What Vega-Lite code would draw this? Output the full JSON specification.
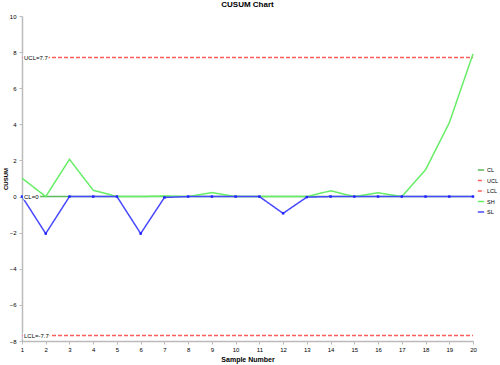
{
  "$schema": "https://vega.github.io/schema/vega-lite/v6.json",
  "width": 451,
  "height": 325,
  "autosize": {"type": "none"},
  "padding": {"left": 22, "top": 16, "right": 27, "bottom": 24},
  "background": "white",
  "config": {"view": {"stroke": null}, "font": "Liberation Sans"},
  "title": {"text": "CUSUM Chart", "fontSize": 8, "fontWeight": "bold", "offset": 4, "color": "#000"},
  "datasets": {
    "cusum": [
      {"sample": 1, "SH": 1.02, "SL": 0, "CL": 0, "UCL": 7.7, "LCL": -7.7},
      {"sample": 2, "SH": 0, "SL": -2.05, "CL": 0, "UCL": 7.7, "LCL": -7.7},
      {"sample": 3, "SH": 2.06, "SL": 0, "CL": 0, "UCL": 7.7, "LCL": -7.7},
      {"sample": 4, "SH": 0.35, "SL": 0, "CL": 0, "UCL": 7.7, "LCL": -7.7},
      {"sample": 5, "SH": 0, "SL": 0, "CL": 0, "UCL": 7.7, "LCL": -7.7},
      {"sample": 6, "SH": 0, "SL": -2.05, "CL": 0, "UCL": 7.7, "LCL": -7.7},
      {"sample": 7, "SH": 0.03, "SL": -0.05, "CL": 0, "UCL": 7.7, "LCL": -7.7},
      {"sample": 8, "SH": 0, "SL": 0, "CL": 0, "UCL": 7.7, "LCL": -7.7},
      {"sample": 9, "SH": 0.22, "SL": 0, "CL": 0, "UCL": 7.7, "LCL": -7.7},
      {"sample": 10, "SH": 0, "SL": 0, "CL": 0, "UCL": 7.7, "LCL": -7.7},
      {"sample": 11, "SH": 0, "SL": 0, "CL": 0, "UCL": 7.7, "LCL": -7.7},
      {"sample": 12, "SH": 0, "SL": -0.93, "CL": 0, "UCL": 7.7, "LCL": -7.7},
      {"sample": 13, "SH": 0, "SL": -0.03, "CL": 0, "UCL": 7.7, "LCL": -7.7},
      {"sample": 14, "SH": 0.32, "SL": 0, "CL": 0, "UCL": 7.7, "LCL": -7.7},
      {"sample": 15, "SH": 0, "SL": 0, "CL": 0, "UCL": 7.7, "LCL": -7.7},
      {"sample": 16, "SH": 0.21, "SL": 0, "CL": 0, "UCL": 7.7, "LCL": -7.7},
      {"sample": 17, "SH": 0, "SL": 0, "CL": 0, "UCL": 7.7, "LCL": -7.7},
      {"sample": 18, "SH": 1.48, "SL": 0, "CL": 0, "UCL": 7.7, "LCL": -7.7},
      {"sample": 19, "SH": 4.08, "SL": 0, "CL": 0, "UCL": 7.7, "LCL": -7.7},
      {"sample": 20, "SH": 7.9, "SL": 0, "CL": 0, "UCL": 7.7, "LCL": -7.7}
    ],
    "labels": [
      {"sample": 1, "value": 7.7, "label": "UCL=7.7"},
      {"sample": 1, "value": 0, "label": "CL=0"},
      {"sample": 1, "value": -7.7, "label": "LCL=-7.7"}
    ]
  },
  "encoding": {
    "x": {
      "field": "sample", "type": "quantitative",
      "scale": {"domain": [1, 20], "nice": false, "zero": false},
      "axis": {
        "title": "Sample Number", "values": [1,2,3,4,5,6,7,8,9,10,11,12,13,14,15,16,17,18,19,20],
        "tickCount": 20,
        "labelFontSize": 6, "titleFontSize": 7, "titleFontWeight": "bold", "grid": false,
        "labelOverlap": false, "labelFlush": false, "labelBound": false,
        "domainColor": "#bbbbbb", "domainWidth": 1.5, "tickColor": "#bbbbbb", "tickSize": 3,
        "labelPadding": 2, "titlePadding": 3, "labelColor": "#000", "titleColor": "#000"
      }
    },
    "y": {
      "field": "value", "type": "quantitative",
      "scale": {"domain": [-8, 10], "nice": false},
      "axis": {
        "title": "CUSUM", "values": [-8,-6,-4,-2,0,2,4,6,8,10],
        "tickCount": 10,
        "labelFontSize": 6, "titleFontSize": 6, "titleFontWeight": "bold", "grid": false,
        "labelOverlap": false, "labelFlush": false, "labelBound": false,
        "domainColor": "#bbbbbb", "domainWidth": 1.5, "tickColor": "#bbbbbb", "tickSize": 3,
        "labelPadding": 3, "titlePadding": 1, "labelColor": "#000", "titleColor": "#000"
      }
    }
  },
  "layer": [
    {
      "data": {"name": "cusum"},
      "transform": [{"fold": ["CL", "UCL", "LCL", "SH", "SL"], "as": ["series", "value"]}],
      "mark": {"type": "line", "strokeWidth": 1.5},
      "encoding": {
        "color": {
          "field": "series", "type": "nominal",
          "scale": {"domain": ["CL", "UCL", "LCL", "SH", "SL"], "range": ["#5cb85c", "#ff5c5c", "#ff5c5c", "#66ee66", "#4848ff"]},
          "legend": {
            "title": null, "orient": "none", "legendX": 455, "legendY": 150,
            "labelFontSize": 5.5, "symbolType": "stroke", "symbolSize": 40, "symbolStrokeWidth": 1.5,
            "rowPadding": 2.5, "labelOffset": 2, "labelColor": "#000", "padding": 0
          }
        },
        "strokeDash": {
          "field": "series", "type": "nominal",
          "scale": {"domain": ["CL", "UCL", "LCL", "SH", "SL"], "range": [[1, 0], [4, 2], [4, 2], [1, 0], [1, 0]]},
          "legend": null
        }
      }
    },
    {
      "data": {"name": "cusum"},
      "transform": [{"fold": ["SL"], "as": ["series", "value"]}],
      "mark": {"type": "square", "size": 6, "color": "#2222ff", "opacity": 1}
    },
    {
      "data": {"name": "labels"},
      "mark": {"type": "text", "align": "left", "baseline": "middle", "dx": 2, "fontSize": 6, "stroke": "white", "strokeWidth": 3, "fill": "white"},
      "encoding": {"text": {"field": "label"}}
    },
    {
      "data": {"name": "labels"},
      "mark": {"type": "text", "align": "left", "baseline": "middle", "dx": 2, "fontSize": 6, "color": "#000"},
      "encoding": {"text": {"field": "label"}}
    }
  ]
}
